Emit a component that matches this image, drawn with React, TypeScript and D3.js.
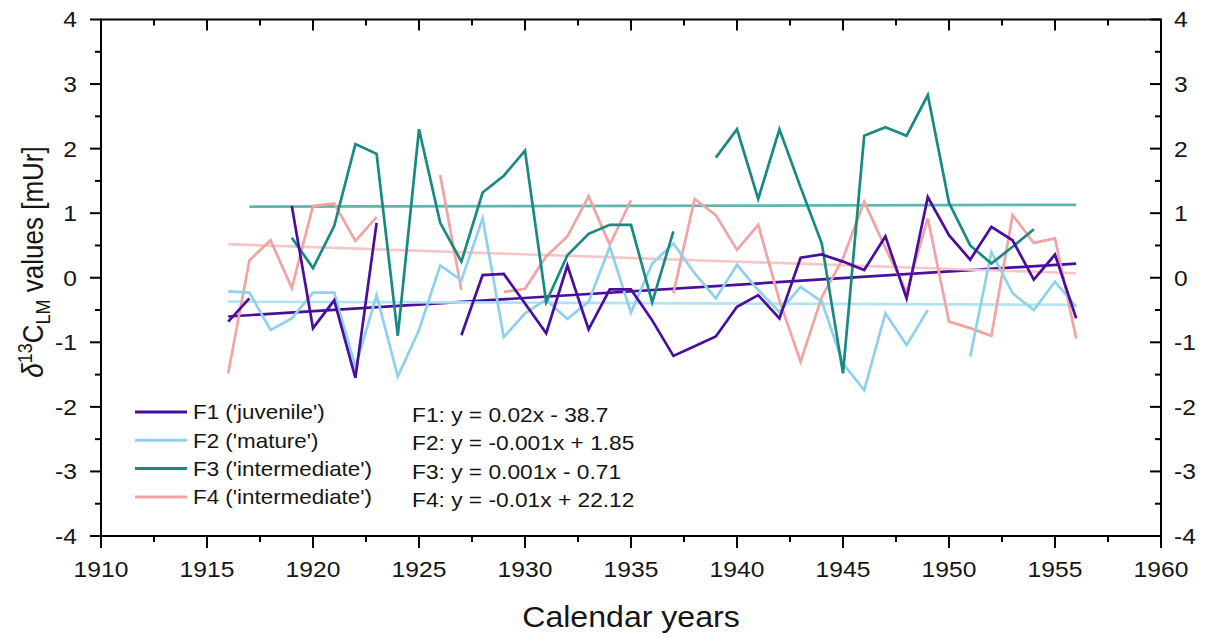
import React from "react";
import * as d3 from "d3";

const years = [1916,1917,1918,1919,1920,1921,1922,1923,1924,1925,1926,1927,1928,1929,1930,1931,1932,1933,1934,1935,1936,1937,1938,1939,1940,1941,1942,1943,1944,1945,1946,1947,1948,1949,1950,1951,1952,1953,1954,1955,1956];

const f1 = [-0.68,-0.32,null,1.11,-0.78,-0.35,-1.55,0.85,null,null,null,-0.89,0.04,0.06,-0.4,-0.86,0.19,-0.8,-0.18,-0.18,-0.66,-1.21,-1.06,-0.91,-0.45,-0.27,-0.63,0.31,0.36,0.25,0.12,0.64,-0.32,1.25,0.66,0.28,0.79,0.58,-0.03,0.36,-0.63];
const f2 = [-0.21,-0.23,-0.81,-0.63,-0.23,-0.23,-1.38,-0.27,-1.53,-0.81,0.19,-0.04,0.92,-0.92,-0.55,-0.34,-0.64,-0.37,0.48,-0.54,0.22,0.53,0.07,-0.32,0.2,-0.19,-0.53,-0.14,-0.37,-1.33,-1.74,-0.55,-1.04,-0.5,null,-1.22,0.4,-0.24,-0.5,-0.06,-0.45];
const f3 = [null,null,null,0.62,0.15,0.8,2.07,1.92,-0.9,2.3,0.85,0.25,1.32,1.58,1.97,-0.38,0.35,0.68,0.82,0.82,-0.38,0.72,null,1.86,2.3,1.22,2.3,1.4,0.53,-1.48,2.2,2.33,2.2,2.83,1.16,0.5,0.22,0.48,0.75,null,null];
const f4 = [-1.48,0.27,0.58,-0.16,1.11,1.15,0.57,0.94,null,null,1.59,-0.19,null,-0.22,-0.17,0.33,0.64,1.26,0.51,1.2,null,-0.24,1.22,0.97,0.43,0.82,-0.35,-1.3,-0.3,0.3,1.18,0.46,-0.22,0.92,-0.68,-0.78,-0.9,0.97,0.54,0.61,-0.94];

// trend line endpoints [year, value]
const trendYears1 = [1916, 1956];
const trend1 = [-0.6, 0.22];
const trendYears2 = [1916, 1956];
const trend2 = [-0.37, -0.42];
const trendYears3 = [1917, 1956];
const trend3 = [1.1, 1.13];
const trendYears4 = [1916, 1956];
const trend4 = [0.52, 0.07];

const legendLabels = ["F1 ('juvenile')", "F2 ('mature')", "F3 ('intermediate')", "F4 ('intermediate')"];
const equations = ["F1: y = 0.02x - 38.7", "F2: y = -0.001x + 1.85", "F3: y = 0.001x - 0.71", "F4: y = -0.01x + 22.12"];
const colors = ["#4a0e9c", "#8fd1ec", "#188a82", "#f2a3a3"];
const trendColors = ["#4a0e9c", "#b3e2f3", "#62b4ae", "#f7c6c6"];

const xTicks = [1910, 1915, 1920, 1925, 1930, 1935, 1940, 1945, 1950, 1955, 1960];
const yTicks = [-4, -3, -2, -1, 0, 1, 2, 3, 4];

const W = 1205, H = 637;
const L = 101, R = 1161, T = 19.5, B = 536;
const SX = 1.12;

function SText(props: { x: number; y: number; anchor?: string; size: number; sx?: number; children: React.ReactNode; dy?: string }) {
  const { x, y, anchor, size, sx, children, dy } = props;
  return (
    <g transform={`translate(${x},${y}) scale(${sx ?? SX},1)`}>
      <text x={0} y={0} dy={dy} textAnchor={anchor ?? "start"} fontSize={size} fill="#151515">
        {children}
      </text>
    </g>
  );
}

export default function App() {
  const x = d3.scaleLinear().domain([1910, 1960]).range([L, R]);
  const y = d3.scaleLinear().domain([-4, 4]).range([B, T]);
  const series = [f1, f2, f3, f4];
  const trends = [
    [trendYears1, trend1],
    [trendYears2, trend2],
    [trendYears3, trend3],
    [trendYears4, trend4],
  ];
  const line = d3
    .line<[number, number | null]>()
    .defined((d) => d[1] !== null)
    .x((d) => x(d[0]))
    .y((d) => y(d[1] as number));
  const xMinor = d3.range(1910, 1960.01, 2.5).filter((v) => !xTicks.includes(v));
  const yMinor = d3.range(-4, 4.01, 0.5).filter((v) => !yTicks.includes(v));
  const font = "Liberation Sans, Arial, sans-serif";

  return (
    <svg width={W} height={H} style={{ position: "absolute", left: 0, top: 0, background: "#fff" }} fontFamily={font}>
      <rect width={W} height={H} fill="#fff" />
      {trends.map(([ty, tv], i) => (
        <path
          key={"t" + i}
          d={line(ty.map((yy, j) => [yy, tv[j]] as [number, number]))!}
          fill="none"
          stroke={trendColors[i]}
          strokeWidth={2.7}
        />
      ))}
      {[3, 1, 2, 0].map((i) => (
        <path
          key={"s" + i}
          d={line(years.map((yy, j) => [yy, series[i][j]] as [number, number | null]))!}
          fill="none"
          stroke={colors[i]}
          strokeWidth={2.7}
          strokeLinejoin="miter"
        />
      ))}
      <rect x={L} y={T} width={R - L} height={B - T} fill="none" stroke="#000" strokeWidth={2} />
      {xTicks.map((t) => (
        <g key={"xt" + t}>
          <line x1={x(t)} x2={x(t)} y1={B} y2={B + 12} stroke="#000" strokeWidth={2} />
          <line x1={x(t)} x2={x(t)} y1={T} y2={T + 11} stroke="#000" strokeWidth={2} />
          <SText x={x(t)} y={577} anchor="middle" size={22}>{t}</SText>
        </g>
      ))}
      {xMinor.map((t) => (
        <g key={"xm" + t}>
          <line x1={x(t)} x2={x(t)} y1={B} y2={B + 6} stroke="#000" strokeWidth={2} />
          <line x1={x(t)} x2={x(t)} y1={T} y2={T + 6} stroke="#000" strokeWidth={2} />
        </g>
      ))}
      {yTicks.map((t) => (
        <g key={"yt" + t}>
          <line x1={L - 11} x2={L} y1={y(t)} y2={y(t)} stroke="#000" strokeWidth={2} />
          <line x1={R - 11} x2={R} y1={y(t)} y2={y(t)} stroke="#000" strokeWidth={2} />
          <SText x={77} y={y(t)} dy="0.36em" anchor="end" size={22}>{t}</SText>
          <SText x={1174} y={y(t)} dy="0.36em" anchor="start" size={22}>{t}</SText>
        </g>
      ))}
      {yMinor.map((t) => (
        <g key={"ym" + t}>
          <line x1={L - 6} x2={L} y1={y(t)} y2={y(t)} stroke="#000" strokeWidth={2} />
          <line x1={R - 6} x2={R} y1={y(t)} y2={y(t)} stroke="#000" strokeWidth={2} />
        </g>
      ))}
      <SText x={(L + R) / 2} y={627} anchor="middle" size={30} sx={1.07}>Calendar years</SText>
      <g transform={`translate(43, 262) rotate(-90) scale(1, 1.12)`}>
        <text x={0} y={0} textAnchor="middle" fontSize={26} fill="#151515">
          <tspan fontStyle="italic">δ</tspan>
          <tspan fontSize={18} dy={-10}>13</tspan>
          <tspan dy={10}>C</tspan>
          <tspan fontSize={18} dy={6}>LM</tspan>
          <tspan dy={-6}> values [mUr]</tspan>
        </text>
      </g>
      {legendLabels.map((lab, i) => {
        const yy = 412 + i * 28.3;
        return (
          <g key={"lg" + i}>
            <line x1={135} x2={187} y1={yy} y2={yy} stroke={colors[i]} strokeWidth={3} />
            <SText x={193} y={yy} dy="0.36em" size={20}>{lab}</SText>
          </g>
        );
      })}
      {equations.map((eq, i) => (
        <SText key={"eq" + i} x={412} y={414.5 + i * 28.5} dy="0.36em" size={20.3}>{eq}</SText>
      ))}
    </svg>
  );
}
